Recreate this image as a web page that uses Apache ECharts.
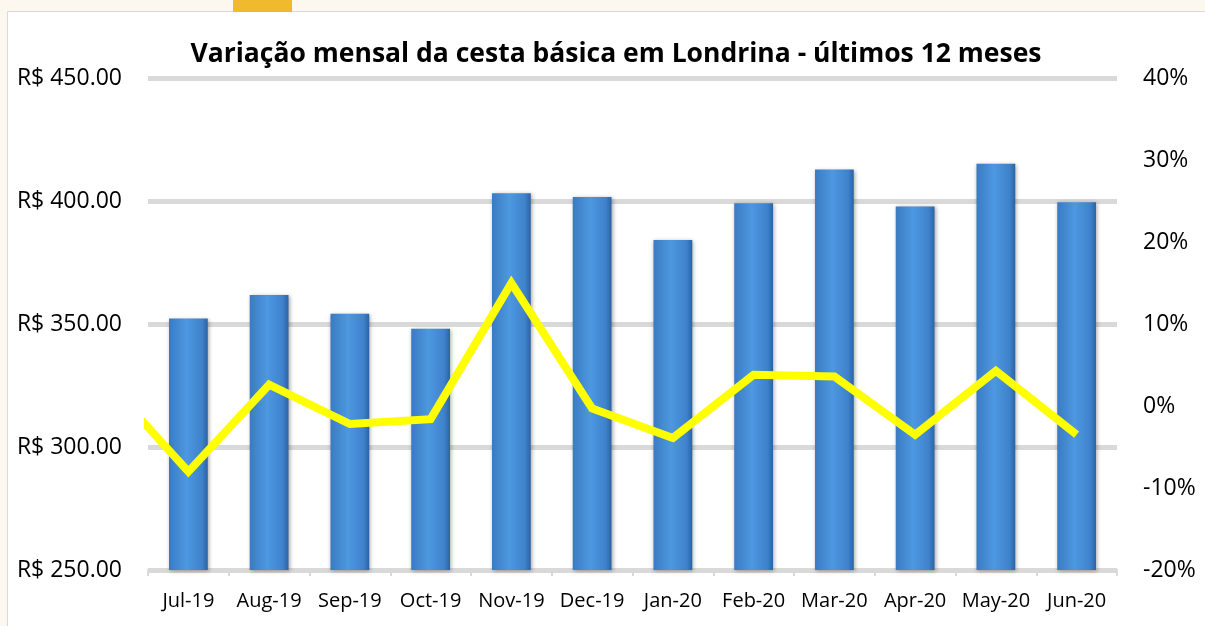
<!DOCTYPE html>
<html>
<head>
<meta charset="utf-8">
<script src="https://cdn.jsdelivr.net/npm/echarts@6/dist/echarts.min.js"></script>
<style>
  html, body { margin: 0; padding: 0; background: #fcf8f0; }
  #chart-container { width: 1205px; height: 626px; }
</style>
</head>
<body>
<div id="chart-container"></div>
<script>
var months = ['Jul-19', 'Aug-19', 'Sep-19', 'Oct-19', 'Nov-19', 'Dec-19',
  'Jan-20', 'Feb-20', 'Mar-20', 'Apr-20', 'May-20', 'Jun-20'];
// custo da cesta (R$)
var cesta = [352.2, 361.8, 354.2, 348.1, 403.1, 401.6, 384.1, 399.1, 412.8, 397.8, 415.1, 399.5];
// variacao mensal (%), first value is Jun-19, only its segment is visible
var variacao = [2.8, -8.0, 2.6, -2.2, -1.6, 15.0, -0.3, -3.9, 3.8, 3.6, -3.5, 4.3, -3.5];

var dom = document.getElementById('chart-container');
var myChart = echarts.init(dom, null, { renderer: 'canvas' });

var font = 'Open Sans';
var lineData = variacao.map(function (v, i) { return [i - 1, v]; });

var barColor = new echarts.graphic.LinearGradient(0, 0, 1, 0, [
  { offset: 0, color: '#3a7bc2' },
  { offset: 0.45, color: '#4d98e0' },
  { offset: 0.85, color: '#3f82cc' },
  { offset: 1, color: '#2b63a4' }
]);

var option = {
  backgroundColor: '#fcf8f0',
  animation: false,
  graphic: [
    { type: 'rect', shape: { x: 233, y: 0, width: 59, height: 12 }, style: { fill: '#f0b92e' } },
    { type: 'rect', shape: { x: 7.5, y: 11.5, width: 1205, height: 620 },
      style: { fill: '#ffffff', stroke: '#d9d9d9', lineWidth: 1 }, z: -10 }
  ],
  title: {
    text: 'Variação mensal da cesta básica em Londrina - últimos 12 meses',
    left: 611,
    textAlign: 'center',
    top: 36,
    textStyle: { fontFamily: font, fontSize: 26.5, fontWeight: 'bold', color: '#000' }
  },
  grid: { left: 148, right: 88, top: 78, bottom: 56 },
  xAxis: [
    {
      type: 'category',
      data: months,
      axisLine: { onZero: false, lineStyle: { color: '#d9d9d9', width: 2 } },
      axisTick: { show: true, length: 6, lineStyle: { color: '#d9d9d9', width: 2 } },
      axisLabel: { fontFamily: font, fontSize: 20, color: '#000', margin: 21, interval: 0 }
    },
    {
      type: 'value',
      min: -0.5,
      max: 11.5,
      show: false,
      axisLine: { show: false, onZero: false },
      axisTick: { show: false },
      axisLabel: { show: false },
      splitLine: { show: false }
    }
  ],
  yAxis: [
    {
      type: 'value',
      min: 250,
      max: 450,
      interval: 50,
      axisLine: { show: false },
      axisTick: { show: false },
      splitLine: { lineStyle: { color: '#d9d9d9', width: 5 } },
      axisLabel: {
        fontFamily: font, fontSize: 23, color: '#000', margin: 26,
        formatter: function (v) { return 'R$ ' + v.toFixed(2); }
      }
    },
    {
      type: 'value',
      min: -20,
      max: 40,
      interval: 10,
      axisLine: { show: false },
      axisTick: { show: false },
      splitLine: { show: false },
      axisLabel: {
        fontFamily: font, fontSize: 23, color: '#000', margin: 26,
        formatter: function (v) { return v + '%'; }
      }
    }
  ],
  series: [
    {
      type: 'bar',
      data: cesta,
      barWidth: '48%',
      itemStyle: {
        color: barColor,
        shadowColor: 'rgba(0,0,0,0.35)',
        shadowBlur: 4,
        shadowOffsetX: 1,
        shadowOffsetY: 1
      }
    },
    {
      type: 'line',
      xAxisIndex: 1,
      yAxisIndex: 1,
      data: lineData,
      clip: true,
      symbol: 'none',
      lineStyle: { color: '#ffff00', width: 8, join: 'miter' },
      z: 5
    }
  ]
};

myChart.setOption(option);
window.addEventListener('resize', myChart.resize);
</script>
</body>
</html>
